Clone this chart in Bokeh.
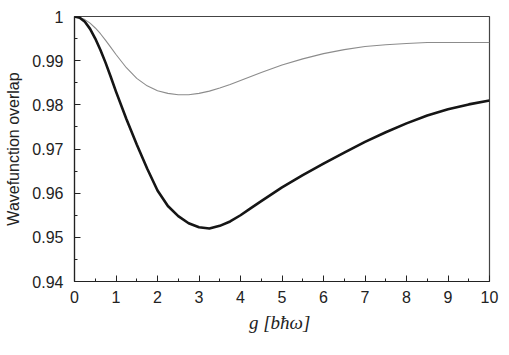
from bokeh.plotting import figure
from bokeh.models import Range1d, FixedTicker, CustomJSTickFormatter
from bokeh.embed import file_html
from bokeh.resources import INLINE

# coupling g [b hbar omega] and wavefunction overlap
g_thick = [0, 0.125, 0.25, 0.375, 0.5, 0.625, 0.75, 0.875, 1.0, 1.25, 1.5, 1.75, 2.0,
           2.25, 2.5, 2.75, 3.0, 3.25, 3.5, 3.75, 4.0, 4.25, 4.5, 5.0, 5.5, 6.0, 6.5,
           7.0, 7.5, 8.0, 8.5, 9.0, 9.5, 10.0]
overlap_thick = [1.0, 0.9997, 0.9988, 0.9972, 0.9950, 0.9924, 0.9895, 0.9863, 0.9830,
                 0.9768, 0.9710, 0.9656, 0.9606, 0.9571, 0.9548, 0.9532, 0.9523, 0.9520,
                 0.9526, 0.9536, 0.9550, 0.9566, 0.9582, 0.9613, 0.9641, 0.9667, 0.9692,
                 0.9716, 0.9738, 0.9758, 0.9776, 0.9790, 0.9801, 0.9810]

g_thin = [0, 0.125, 0.25, 0.375, 0.5, 0.625, 0.75, 0.875, 1.0, 1.25, 1.5, 1.75, 2.0,
          2.25, 2.5, 2.75, 3.0, 3.25, 3.5, 3.75, 4.0, 4.5, 5.0, 5.5, 6.0, 6.5, 7.0,
          7.5, 8.0, 8.5, 9.0, 9.5, 10.0]
overlap_thin = [1.0, 0.9998, 0.9993, 0.9985, 0.9974, 0.9961, 0.9946, 0.9930, 0.9914,
                0.9884, 0.9860, 0.9843, 0.9832, 0.9826, 0.9823, 0.9823, 0.9826, 0.9831,
                0.9838, 0.9846, 0.9855, 0.9873, 0.9890, 0.9904, 0.9916, 0.9925, 0.9932,
                0.9936, 0.9939, 0.9941, 0.9941, 0.9941, 0.9941]

x_ticks = [0, 1, 2, 3, 4, 5, 6, 7, 8, 9, 10]
x_minor = [0.5, 1.5, 2.5, 3.5, 4.5, 5.5, 6.5, 7.5, 8.5, 9.5]
y_ticks = [0.94, 0.95, 0.96, 0.97, 0.98, 0.99, 1.0]
y_minor = [0.945, 0.955, 0.965, 0.975, 0.985, 0.995]

p = figure(frame_width=415, frame_height=265, output_backend="svg", toolbar_location=None,
           x_range=Range1d(0, 10), y_range=Range1d(0.94, 1.0),
           min_border_left=74, min_border_right=18, min_border_top=16, min_border_bottom=70)
p.background_fill_color = "white"
p.border_fill_color = "white"
p.outline_line_color = "#444444"
p.outline_line_width = 1.2
p.xgrid.visible = False
p.ygrid.visible = False

p.line(g_thin, overlap_thin, line_color="#8c8c8c", line_width=1.1, line_join="round")
p.line(g_thick, overlap_thick, line_color="#151515", line_width=2.6, line_join="round")

for ax in (p.xaxis[0], p.yaxis[0]):
    ax.axis_line_color = "#222222"
    ax.axis_line_width = 1.2
    ax.major_tick_in = 6
    ax.major_tick_out = 0
    ax.minor_tick_in = 3
    ax.minor_tick_out = 0
    ax.major_tick_line_color = "#222222"
    ax.minor_tick_line_color = "#222222"
    ax.major_label_text_font = "Liberation Sans"
    ax.major_label_text_font_size = "16px"
    ax.major_label_text_color = "#222222"
    ax.axis_label_text_color = "#222222"

p.xaxis.ticker = FixedTicker(ticks=x_ticks, minor_ticks=x_minor)
p.yaxis.ticker = FixedTicker(ticks=y_ticks, minor_ticks=y_minor)
p.yaxis.formatter = CustomJSTickFormatter(code="return (Math.round(tick*100)/100).toString();")
p.xaxis.major_label_standoff = 9
p.yaxis.major_label_standoff = 11

p.xaxis.axis_label = "g  [bħω]"
p.xaxis.axis_label_text_font = "Liberation Serif"
p.xaxis.axis_label_text_font_style = "italic"
p.xaxis.axis_label_text_font_size = "19px"
p.xaxis.axis_label_standoff = 6

p.yaxis.axis_label = "Wavefunction overlap"
p.yaxis.axis_label_text_font = "Liberation Sans"
p.yaxis.axis_label_text_font_style = "normal"
p.yaxis.axis_label_text_font_size = "16px"
p.yaxis.axis_label_standoff = 7

open("out.html", "w").write(file_html(p, INLINE))
